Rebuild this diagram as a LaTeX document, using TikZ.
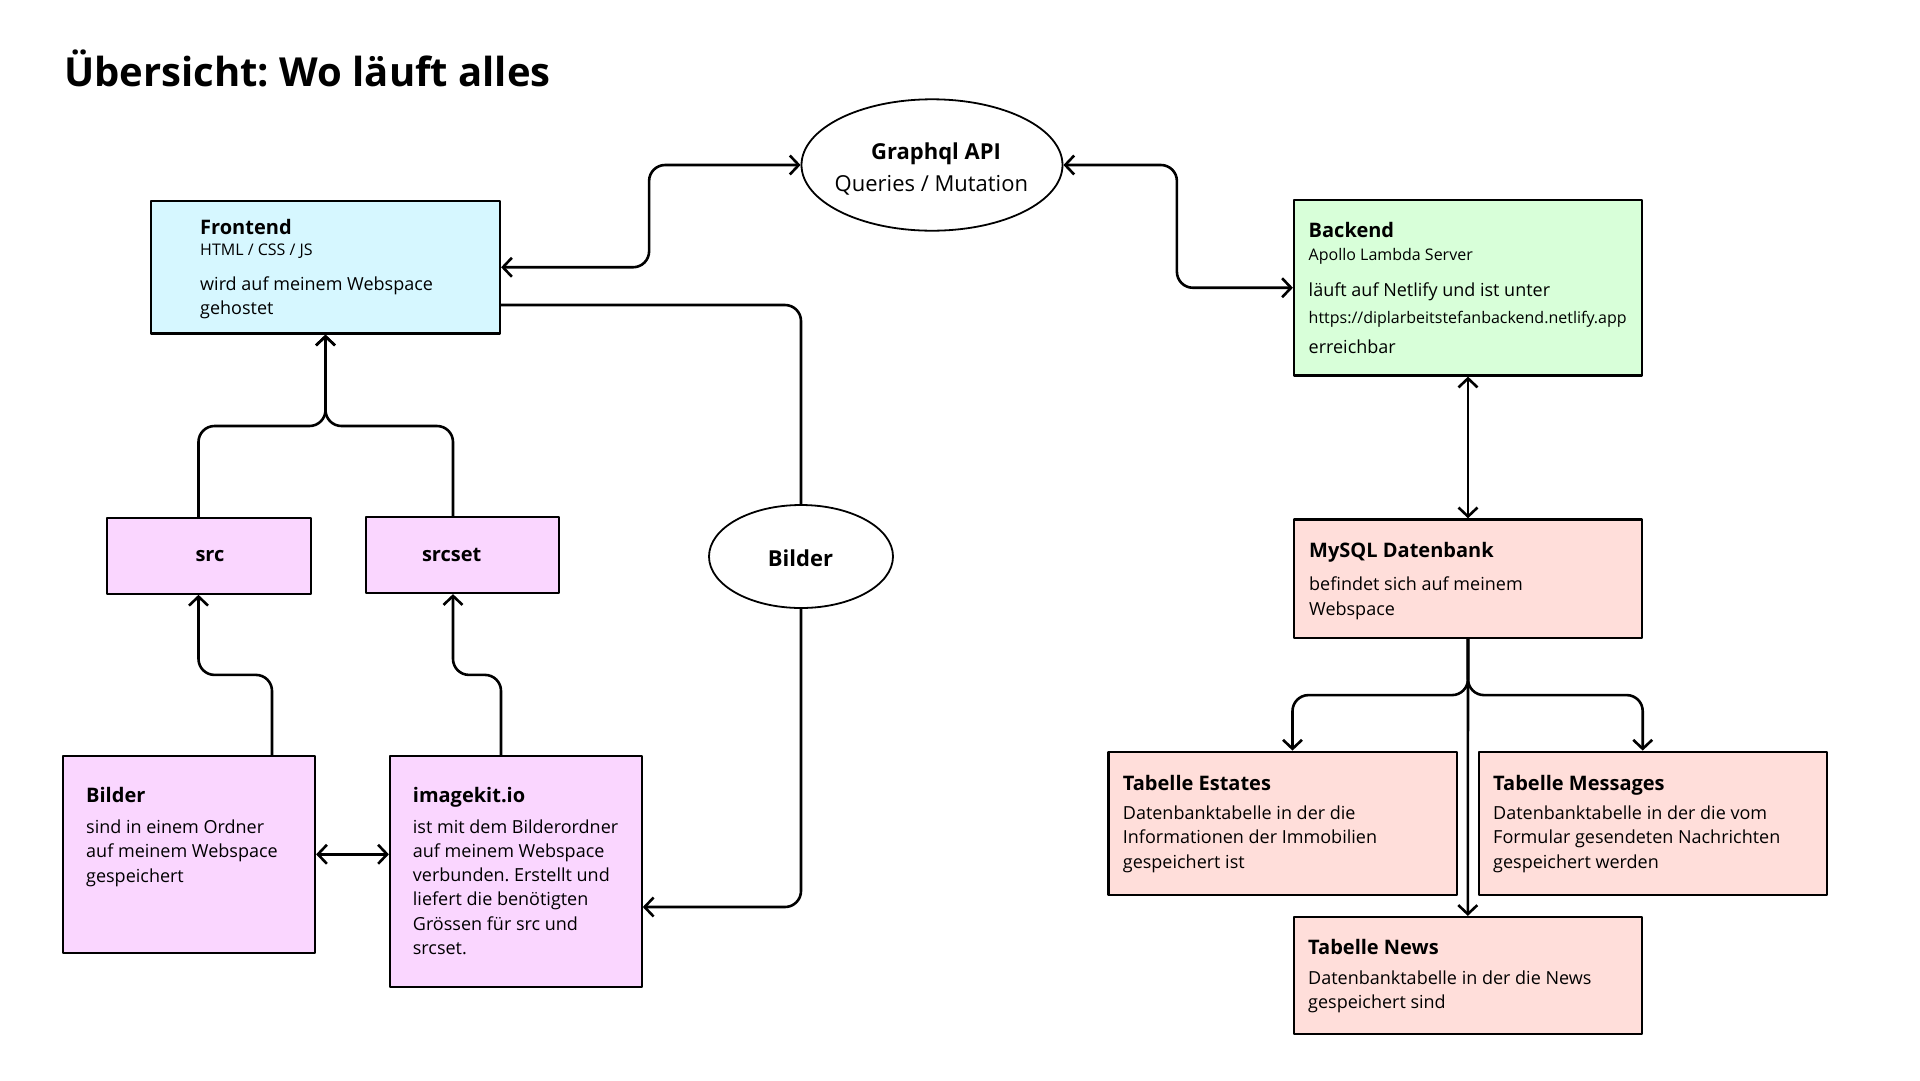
\documentclass[tikz,border=0pt]{standalone}
\usepackage{fontspec}
\setmainfont{Open Sans}
\usetikzlibrary{arrows.meta}
\usetikzlibrary{shapes.geometric}
\frenchspacing

\definecolor{feblue}{RGB}{214,247,255}
\definecolor{begreen}{RGB}{216,255,217}
\definecolor{imgpink}{RGB}{250,214,255}
\definecolor{dbrose}{RGB}{255,222,218}

\tikzset{
  box/.style={draw, line width=2.2pt, inner sep=0pt},
  oval/.style={draw, ellipse, line width=1.8pt, inner sep=0pt},
  conn/.style={line width=2.6pt, rounded corners=16pt},
  hd/.style={anchor=base west, inner sep=0pt, font=\bfseries\fontsize{20}{24}\selectfont},
  hdc/.style={anchor=base, inner sep=0pt, font=\bfseries\fontsize{20}{24}\selectfont},
  tx/.style={anchor=base west, inner sep=0pt, font=\fontsize{18}{24}\selectfont},
  sm/.style={anchor=base west, inner sep=0pt, font=\fontsize{16}{20}\selectfont},
  ov/.style={anchor=base, inner sep=0pt, font=\fontsize{22}{26}\selectfont},
}

\begin{document}
\begin{tikzpicture}[line cap=round,line join=round,>={Straight Barb[length=9pt,width=19pt]},x=1pt,y=-1pt]
\fill[white] (0,0) rectangle (1920,1080);
\useasboundingbox (0,0) rectangle (1920,1080);

%Titel
\node[anchor=base west, inner sep=0pt, font=\bfseries\fontsize{40}{48}\selectfont] (titel) at (64,86) {Übersicht: Wo läuft alles};

%Kästen
\node[box, fill=feblue, minimum width=349, minimum height=132.5] (fe) at (325.5,267.25) {};
\node[oval, minimum width=261, minimum height=131.4] (gq) at (932,165) {};
\node[box, fill=begreen, minimum width=348, minimum height=175.5] (be) at (1468,287.75) {};
\node[box, fill=dbrose, minimum width=348, minimum height=118.6] (db) at (1468,578.7) {};
\node[box, fill=dbrose, minimum width=348.5, minimum height=143] (es) at (1282.75,823.2) {};
\node[box, fill=dbrose, minimum width=348, minimum height=143] (ms) at (1653,823.2) {};
\node[box, fill=dbrose, minimum width=348.4, minimum height=117] (nw) at (1467.8,975.5) {};
\node[box, fill=imgpink, minimum width=204.3, minimum height=75.4] (src) at (208.85,556) {};
\node[box, fill=imgpink, minimum width=193.6, minimum height=75.7] (srcset) at (462.5,555.15) {};
\node[oval, minimum width=184, minimum height=103] (bi) at (801,556.5) {};
\node[box, fill=imgpink, minimum width=252, minimum height=196.6] (bb) at (189,854.3) {};
\node[box, fill=imgpink, minimum width=251.7, minimum height=231.3] (ik) at (515.85,871.65) {};

%Texte
\node[hd] (fe-t) at (200,234) {Frontend};
\node[sm] (fe-s) at (200,255.7) {HTML / CSS / JS};
\node[tx] (fe-1) at (200,290.7) {wird auf meinem Webspace};
\node[tx] (fe-2) at (200,314) {gehostet};

\node[ov, font=\bfseries\fontsize{22}{26}\selectfont] (gq-t) at (936,159.3) {Graphql API};
\node[ov] (gq-s) at (931.4,191) {Queries / Mutation};

\node[hd] (be-t) at (1308.5,237.5) {Backend};
\node[sm] (be-s) at (1308.5,260.7) {Apollo Lambda Server};
\node[tx] (be-1) at (1308.5,296.7) {läuft auf Netlify und ist unter};
\node[sm] (be-2) at (1308.5,323.3) {https://diplarbeitstefanbackend.netlify.app};
\node[tx] (be-3) at (1308.5,353) {erreichbar};

\node[hd] (db-t) at (1309,557) {MySQL Datenbank};
\node[tx] (db-1) at (1309,590) {befindet sich auf meinem};
\node[tx] (db-2) at (1309,615) {Webspace};

\node[hd] (es-t) at (1122.7,790) {Tabelle Estates};
\foreach \t [count=\i] in {Datenbanktabelle in der die, Informationen der Immobilien, gespeichert ist}
  \node[tx] (es-\i) at (1122.7,{794.5+24.5*\i}) {\t};

\node[hd] (ms-t) at (1493,790) {Tabelle Messages};
\foreach \t [count=\i] in {Datenbanktabelle in der die vom, Formular gesendeten Nachrichten, gespeichert werden}
  \node[tx] (ms-\i) at (1493,{794.5+24.5*\i}) {\t};

\node[hd] (nw-t) at (1308,954) {Tabelle News};
\foreach \t [count=\i] in {Datenbanktabelle in der die News, gespeichert sind}
  \node[tx] (nw-\i) at (1308,{959.7+24.3*\i}) {\t};

\node[hdc] (src-t) at (210,561) {src};
\node[hdc] (srcset-t) at (451.7,561) {srcset};
\node[ov, font=\bfseries\fontsize{22}{26}\selectfont] (bi-t) at (800.5,566) {Bilder};

\node[hd] (bb-t) at (86,802) {Bilder};
\foreach \t [count=\i] in {sind in einem Ordner, auf meinem Webspace, gespeichert}
  \node[tx] (bb-\i) at (86,{808.8+24.4*\i}) {\t};

\node[hd] (ik-t) at (412.7,802) {imagekit.io};
\foreach \t [count=\i] in {ist mit dem Bilderordner, auf meinem Webspace, verbunden. Erstellt und, liefert die benötigten, Grössen für src und, srcset.}
  \node[tx] (ik-\i) at (412.7,{809.1+24.2*\i}) {\t};

%Verbindungen oben
\draw[conn,<->] (fe.east) -- ++(148,0) |- (gq.west);
\draw[conn,<->] (gq.east) -- ++(113.5,0) |- (be.west);
\draw[conn] ([yshift=-37.75pt]fe.east) -| (bi.north);
\draw[conn,->] (bi.south) |- ([yshift=-35.35pt]ik.east);

%src / srcset
\draw[conn,->] ([xshift=-10.35pt]src.north) -- ++(0,-91.2) -| (fe.south);
\draw[conn,->] ([xshift=-9.5pt]srcset.north) -- ++(0,-90.2) -| (fe.south);
\draw[conn,->] ([xshift=83pt]bb.north) -- ++(0,-80) -| ([xshift=-10.35pt]src.south);
\draw[conn,->] ([xshift=-14.85pt]ik.north) -- ++(0,-80) -| ([xshift=-9.5pt]srcset.south);
\draw[conn,<->] (bb.east) -- (bb.east -| ik.west);

%Datenbank
\draw[conn,<->] (be.south) -- (db.north);
\draw[conn,->] (db.south) -- ++(0,56) -| ([xshift=9.75pt]es.north);
\draw[conn,->] (db.south) -- ++(0,56) -| ([xshift=-10.3pt]ms.north);
\draw[conn,->] (db.south) -- (nw.north);
\end{tikzpicture}
\end{document}
